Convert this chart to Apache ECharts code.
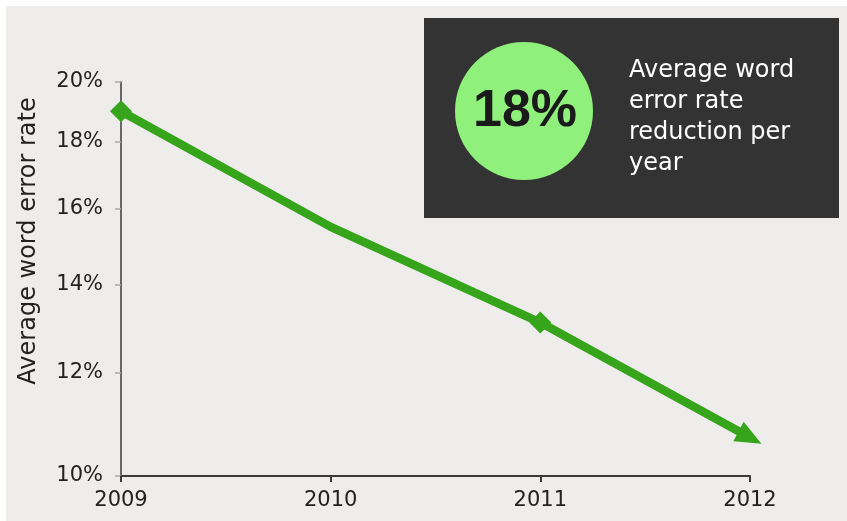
<!DOCTYPE html>
<html>
<head>
<meta charset="utf-8">
<script src="https://cdn.jsdelivr.net/npm/echarts@6/dist/echarts.min.js"></script>
<style>
  html, body { margin: 0; padding: 0; background: #fff; }
  #chart { width: 847px; height: 521px; }
</style>
</head>
<body>
<div id="chart"></div>
<script>
// 数据
const years = ['2009', '2010', '2011', '2012'];
const errorRate = [19.0, 15.5, 13.1, 10.7];
const yTicks = [10, 12, 14, 16, 18, 20];
const symbols = ['diamond', 'none', 'diamond', 'triangle'];

const green = '#37a51c';
const font = 'DejaVu Sans, Arial, sans-serif';
const myChart = echarts.init(document.getElementById('chart'));

myChart.setOption({
  backgroundColor: '#fff',
  animation: false,
  textStyle: { fontFamily: font },
  graphic: [
    // 灰色背景
    { type: 'rect', z: -10, shape: { x: 6, y: 6, width: 841, height: 515 }, style: { fill: '#eeedeb' } },
    // 右上角说明框
    { type: 'rect', z: 10, shape: { x: 424, y: 18, width: 415, height: 200 }, style: { fill: '#333333' } },
    { type: 'circle', z: 11, shape: { cx: 524, cy: 111, r: 69 }, style: { fill: '#8ff07c' } },
    {
      type: 'text', z: 12, x: 525, y: 112,
      style: {
        text: '18%', fill: '#1a1a1a', font: 'bold 52px Liberation Sans, Arial, sans-serif',
        textAlign: 'center', textVerticalAlign: 'middle'
      }
    },
    {
      type: 'text', z: 12, x: 629, y: 55,
      style: {
        text: 'Average word\nerror rate\nreduction per\nyear',
        fill: '#ffffff', font: '24px ' + font,
        lineHeight: 31, textAlign: 'left', textVerticalAlign: 'top'
      }
    }
  ],
  grid: { left: 121, right: 97, top: 82, bottom: 45 },
  xAxis: {
    type: 'category',
    data: years,
    boundaryGap: false,
    axisLine: { lineStyle: { color: '#3a3a3a', width: 2 } },
    axisTick: { length: 6, lineStyle: { color: '#3a3a3a', width: 2 } },
    axisLabel: { color: '#222', fontSize: 21, margin: 14 }
  },
  yAxis: {
    type: 'log',
    logBase: 10,
    min: 10,
    max: 20,
    name: 'Average word error rate',
    nameLocation: 'middle',
    nameGap: 80,
    nameTextStyle: { color: '#222', fontSize: 24, padding: [0, 0, 0, 76] },
    axisLine: { show: true, lineStyle: { color: '#3a3a3a', width: 1.5 } },
    axisTick: { show: true, length: 6, customValues: yTicks, lineStyle: { color: '#aaa', width: 1.5 } },
    splitLine: { show: false },
    axisLabel: {
      color: '#222', fontSize: 21, margin: 18,
      customValues: yTicks,
      formatter: v => Math.round(v) + '%'
    }
  },
  series: [
    {
      type: 'line',
      data: errorRate.map((v, i) => ({
        value: v,
        symbol: symbols[i],
        symbolSize: i === 3 ? [22, 26] : 22,
        symbolRotate: i === 3 ? -118 : 0
      })),
      lineStyle: { color: green, width: 8.5 },
      itemStyle: { color: green },
      z: 5
    }
  ]
});

window.addEventListener('resize', () => myChart.resize());
</script>
</body>
</html>
